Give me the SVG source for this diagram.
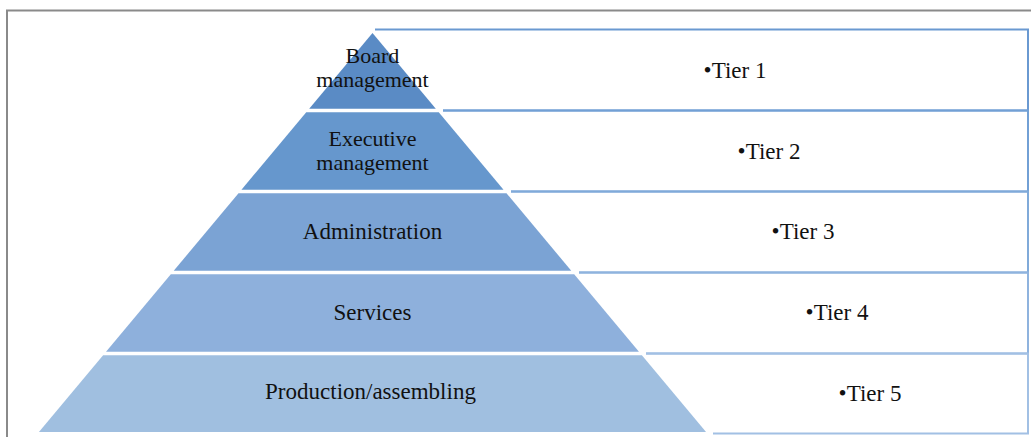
<svg xmlns="http://www.w3.org/2000/svg" width="1031" height="437" viewBox="0 0 1031 437">
  <style>
    .lbl { font-family: "Liberation Serif", "Times New Roman", serif; font-size: 23px; fill: #111111; text-anchor: middle; }
    .lbl2 { font-size: 22px; }
    .frame { fill: none; stroke: #8a8a8a; stroke-width: 2; }
    .row { fill: none; stroke-width: 2; stroke-linejoin: miter; }
  </style>
  <rect width="1031" height="437" fill="#ffffff"/>

  <!-- outer page frame -->
  <path class="frame" d="M7,437 V10.5 H1031"/>

  <!-- tier rows on the right -->
  <g id="rows">
    <g id="row1">
      <path class="row" stroke="#6a99d1" d="M375,29.5 H1028 V110.5 H443"/>
      <text class="lbl" x="735" y="78">•Tier 1</text>
    </g>
    <g id="row2">
      <path class="row" stroke="#72a0d5" d="M443,110.5 H1028 V191.5 H511"/>
      <text class="lbl" x="769" y="159">•Tier 2</text>
    </g>
    <g id="row3">
      <path class="row" stroke="#80aad9" d="M511,191.5 H1028 V272.5 H579"/>
      <text class="lbl" x="803" y="239">•Tier 3</text>
    </g>
    <g id="row4">
      <path class="row" stroke="#8fb3de" d="M579,272.5 H1028 V353.5 H646"/>
      <text class="lbl" x="837" y="320">•Tier 4</text>
    </g>
    <g id="row5">
      <path class="row" stroke="#a2c0e4" d="M646,353.5 H1028 V433.5 H713"/>
      <text class="lbl" x="870" y="401">•Tier 5</text>
    </g>
  </g>

  <!-- pyramid levels -->
  <g id="pyramid">
    <g id="level1">
      <polygon fill="#5a8bc5" points="372.5,33 435.8,108.75 309.2,108.75"/>
      <text class="lbl lbl2" x="372.5" y="63">Board</text>
      <text class="lbl lbl2" x="372.5" y="87">management</text>
    </g>
    <g id="level2">
      <polygon fill="#6697cd" points="306.25,112.25 438.75,112.25 503.54,189.75 241.46,189.75"/>
      <text class="lbl lbl2" x="372.5" y="146">Executive</text>
      <text class="lbl lbl2" x="372.5" y="170">management</text>
    </g>
    <g id="level3">
      <polygon fill="#7ba3d4" points="238.53,193.25 506.47,193.25 571.26,270.75 173.74,270.75"/>
      <text class="lbl" x="372.5" y="239">Administration</text>
    </g>
    <g id="level4">
      <polygon fill="#8eb0dc" points="170.82,274.25 574.18,274.25 638.97,351.75 106.03,351.75"/>
      <text class="lbl" x="372.5" y="320">Services</text>
    </g>
    <g id="level5">
      <polygon fill="#a0bfe0" points="103.1,355.25 641.9,355.25 706.06,432 38.94,432"/>
      <text class="lbl" x="370.5" y="399">Production/assembling</text>
    </g>
  </g>
</svg>
